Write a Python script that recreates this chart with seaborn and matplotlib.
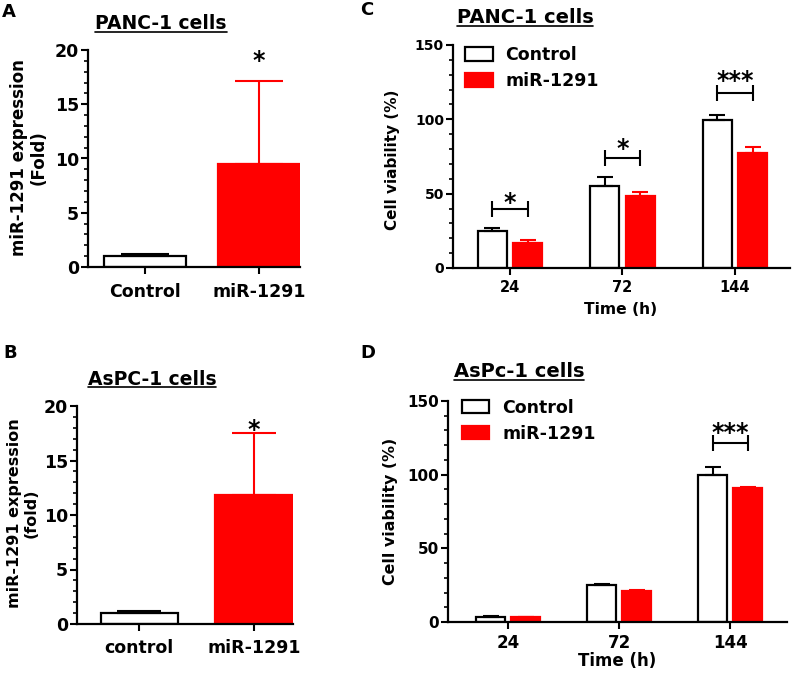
import numpy as np
import pandas as pd
import matplotlib
matplotlib.use('Agg')
import matplotlib.pyplot as plt
from matplotlib.patches import Patch
from matplotlib.lines import Line2D
from matplotlib.container import BarContainer
from matplotlib.ticker import MultipleLocator
import seaborn as sns

# ---------------- data ----------------
groups_A = ['Control', 'miR-1291']
mean_A = [1.0, 9.5]
err_A = [0.2, 7.65]

groups_B = ['control', 'miR-1291']
mean_B = [1.0, 11.8]
err_B = [0.18, 5.7]

times = ['24', '72', '144']
series = ['Control', 'miR-1291']

ctrl_C = [24.6, 55.3, 99.6]
ctrl_C_err = [2.3, 5.6, 3.4]
mir_C = [16.8, 48.1, 77.2]
mir_C_err = [2.2, 2.9, 4.1]

ctrl_D = [3.6, 24.9, 99.7]
ctrl_D_err = [0.8, 0.7, 5.5]
mir_D = [3.4, 21.1, 90.7]
mir_D_err = [0.2, 0.4, 0.8]

# significance annotations
star_A = ['', '*']
star_A_y = [0, 18.3]
star_B = ['', '*']
star_B_y = [0, 17.2]
sig_C = ['*', '*', '***']
sig_C_bracket = [39.8, 74.1, 117.7]
sig_C_star = [39.0, 75.3, 121.0]
sig_D = ['', '', '***']
sig_D_bracket = [0, 0, 121.5]
sig_D_star = [0, 0, 123.4]

RED = '#FF0000'
W, H = 794, 673

sns.set_style('ticks')
plt.rcParams['font.family'] = ['DejaVu Sans']
plt.rcParams['font.weight'] = 'bold'
plt.rcParams['axes.labelweight'] = 'bold'
for k in ['text.color', 'axes.labelcolor', 'xtick.color', 'ytick.color', 'axes.edgecolor']:
    plt.rcParams[k] = 'black'

fig = plt.figure(figsize=(W / 100, H / 100), dpi=100)


def ax_px(left, top, right, bottom):
    return fig.add_axes([left / W, 1 - bottom / H, (right - left) / W, (bottom - top) / H])


def style_axes(ax, tick_fs_x, tick_fs_y, xpad, minor):
    sns.despine(ax=ax)
    for s in ['left', 'bottom']:
        ax.spines[s].set_linewidth(1.6)
        ax.spines[s].set_color('black')
    ax.yaxis.set_minor_locator(MultipleLocator(minor))
    ax.tick_params(axis='y', which='major', length=5, width=1.5, pad=1.5,
                   labelsize=tick_fs_y, colors='black')
    ax.tick_params(axis='y', which='minor', length=3, width=1.2, colors='black')
    ax.tick_params(axis='x', which='major', length=5, width=1.5, pad=xpad,
                   labelsize=tick_fs_x, colors='black')
    for lab in ax.get_xticklabels() + ax.get_yticklabels():
        lab.set_fontweight('bold')
    ax.set_xlabel('')
    ax.set_ylabel('')


def expr_panel(ax, groups, mean, err, width, xlim, stars, star_y, capsize):
    df = pd.DataFrame({'group': groups, 'value': mean})
    sns.barplot(data=df, x='group', y='value', hue='group', order=groups,
                palette=['white', RED], saturation=1, width=width, errorbar=None,
                legend=False, ax=ax)
    colors = ['black', RED]
    bars = sorted(ax.patches, key=lambda p: p.get_x())
    for p, c in zip(bars, colors):
        p.set_edgecolor(c)
        p.set_linewidth(1.6)
    for i, p in enumerate(bars):
        xc = p.get_x() + p.get_width() / 2
        ax.errorbar(xc, mean[i], yerr=[[0], [err[i]]], color=colors[i],
                    capsize=capsize, elinewidth=1.5, capthick=1.5, zorder=1)
        if stars[i]:
            ax.text(xc, star_y[i], stars[i], ha='center', va='baseline',
                    fontsize=17, fontweight='bold')
    ax.set_xlim(*xlim)
    ax.set_ylim(0, 20)
    ax.set_yticks([0, 5, 10, 15, 20])


def via_panel(ax, ctrl, ctrl_err, mir, mir_err, xlim, sig, br_y, st_y, legend_anchor):
    df = pd.DataFrame({
        'time': times * 2,
        'group': [series[0]] * 3 + [series[1]] * 3,
        'value': list(ctrl) + list(mir),
    })
    sns.barplot(data=df, x='time', y='value', hue='group', order=times,
                hue_order=series, palette=['white', RED], saturation=1,
                width=0.63, gap=0.18, errorbar=None, legend=False, ax=ax)
    colors = ['black', RED]
    errs = [ctrl_err, mir_err]
    vals = [ctrl, mir]
    centers = []
    bar_conts = [c for c in ax.containers if isinstance(c, BarContainer)]
    for k, cont in enumerate(bar_conts):
        cx = []
        for i, p in enumerate(cont.patches):
            p.set_edgecolor(colors[k])
            p.set_linewidth(1.6)
            xc = p.get_x() + p.get_width() / 2
            cx.append(xc)
            ax.errorbar(xc, vals[k][i], yerr=[[0], [errs[k][i]]], color=colors[k],
                        capsize=5.5, elinewidth=1.5, capthick=1.5, zorder=1)
        centers.append(cx)
    for i, s in enumerate(sig):
        if s:
            x1, x2 = centers[0][i], centers[1][i]
            ax.plot([x1, x2], [br_y[i], br_y[i]], color='black', lw=1.5,
                    marker='|', markersize=11, markeredgewidth=1.5)
            ax.text((x1 + x2) / 2, st_y[i], s, ha='center', va='baseline',
                    fontsize=17, fontweight='bold')
    ax.set_xlim(*xlim)
    ax.set_ylim(0, 150)
    ax.set_yticks([0, 50, 100, 150])
    handles = [Patch(facecolor='white', edgecolor='black', linewidth=1.6),
               Patch(facecolor=RED, edgecolor=RED, linewidth=1.6)]
    ax.legend(handles, series, loc='upper left', bbox_to_anchor=legend_anchor,
              frameon=False, borderpad=0, borderaxespad=0, handlelength=1.6,
              handleheight=0.8, handletextpad=0.75, labelspacing=0.45,
              prop={'size': 12.5, 'weight': 'bold'})


# Panel A
axA = ax_px(88, 50, 300, 267)
expr_panel(axA, groups_A, mean_A, err_A, 0.72, (-0.5, 1.36), star_A, star_A_y, 17.5)
style_axes(axA, 12.5, 12.5, 6.5, 1)

# Panel B
axB = ax_px(77, 406, 293, 624)
expr_panel(axB, groups_B, mean_B, err_B, 0.67, (-0.54, 1.34), star_B, star_B_y, 16)
style_axes(axB, 12.5, 12.5, 6, 1)

# Panel C
axC = ax_px(453, 45, 790, 268)
via_panel(axC, ctrl_C, ctrl_C_err, mir_C, mir_C_err, (-0.507, 2.49),
          sig_C, sig_C_bracket, sig_C_star, (0.035, 0.995))
style_axes(axC, 10.5, 10, 4, 10)

# Panel D
axD = ax_px(448, 401, 787, 622)
via_panel(axD, ctrl_D, ctrl_D_err, mir_D, mir_D_err, (-0.54, 2.51),
          sig_D, sig_D_bracket, sig_D_star, (0.04, 1.01))
style_axes(axD, 12, 11, 4, 10)


def ftext(x, y, s, **kw):
    return fig.text(x / W, 1 - y / H, s, **kw)


# y labels
ftext(29, 158, 'miR-1291 expression\n(Fold)', rotation=90, ha='center', va='center',
      fontsize=12, fontweight='bold', multialignment='center', linespacing=1.1)
ftext(23, 513, 'miR-1291 expression\n(fold)', rotation=90, ha='center', va='center',
      fontsize=11.5, fontweight='bold', multialignment='center', linespacing=1.1)
ftext(392, 160, 'Cell viability (%)', rotation=90, ha='center', va='center',
      fontsize=11, fontweight='bold')
ftext(391, 511, 'Cell viability (%)', rotation=90, ha='center', va='center',
      fontsize=11.4, fontweight='bold')

# x labels
ftext(621, 310, 'Time (h)', ha='center', va='center', fontsize=11.2, fontweight='bold')
ftext(617, 661, 'Time (h)', ha='center', va='center', fontsize=12, fontweight='bold')

# panel letters
ftext(2, 17, 'A', ha='left', va='baseline', fontsize=13, fontweight='bold')
ftext(360, 15, 'C', ha='left', va='baseline', fontsize=13, fontweight='bold')
ftext(3, 358, 'B', ha='left', va='baseline', fontsize=13, fontweight='bold')
ftext(360, 358, 'D', ha='left', va='baseline', fontsize=13, fontweight='bold')

# underlined titles
titles = [
    (161, 29, 'PANC-1 cells', 13.5),
    (525, 23, 'PANC-1 cells', 14),
    (152, 385, 'AsPC-1 cells', 13.5),
    (519, 377, 'AsPc-1 cells', 14),
]
tobjs = []
for x, y, s, fs in titles:
    t = ftext(x, y, s, ha='center', va='baseline', fontsize=fs, fontweight='bold')
    tobjs.append((t, y))

fig.canvas.draw()
renderer = fig.canvas.get_renderer()
for t, y in tobjs:
    bb = t.get_window_extent(renderer)
    yy = 1 - (y + 2.5) / H
    fig.add_artist(Line2D([bb.x0 / W, bb.x1 / W], [yy, yy], color='black', lw=1.2,
                          transform=fig.transFigure))

fig.savefig('out.png', dpi=100)
